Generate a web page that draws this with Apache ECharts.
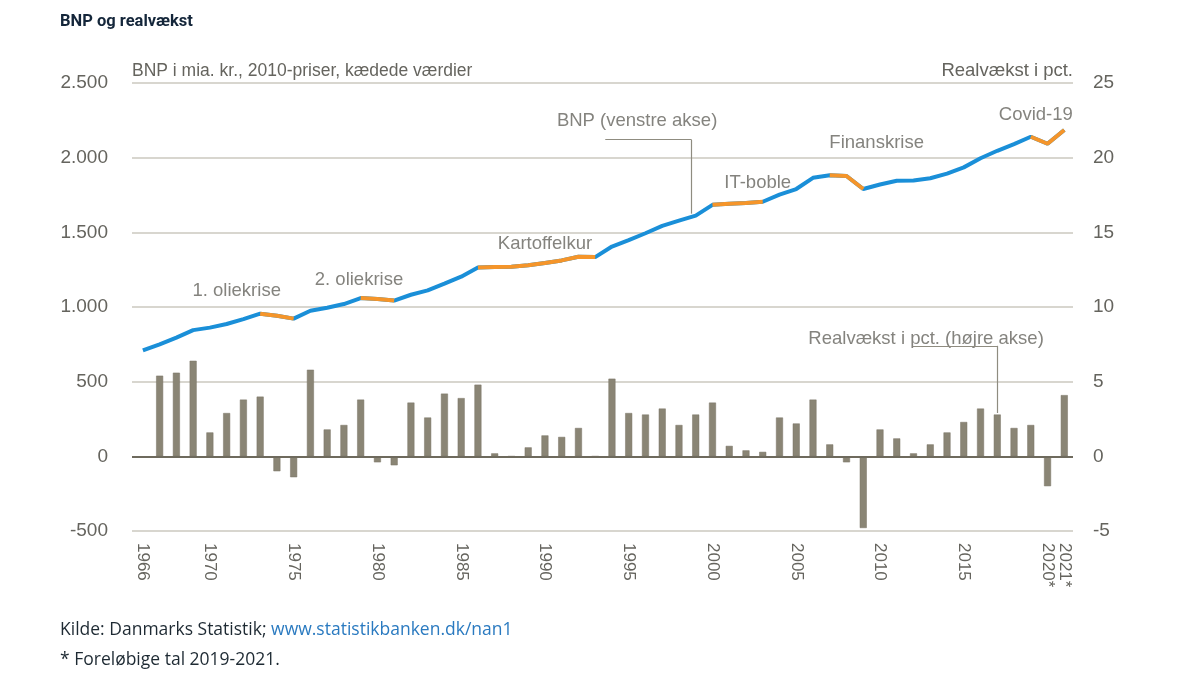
<!DOCTYPE html>
<html>
<head>
<meta charset="utf-8">
<script src="https://cdn.jsdelivr.net/npm/echarts@6.0.0/dist/echarts.min.js"></script>
<style>
  html, body { margin: 0; padding: 0; background: #fff; }
  #chart { width: 1200px; height: 675px; }
</style>
</head>
<body>
<div id="chart"></div>
<script>
// år 1966-2021
var years = [];
for (var y = 1966; y <= 2021; y++) years.push(y);

// BNP i mia. kr., 2010-priser (venstre akse)
var bnp = [709, 750, 795, 845, 862, 886, 919, 955, 942, 922,
           975, 995, 1020, 1060, 1053, 1043, 1082, 1111, 1156, 1203,
           1265, 1268, 1270, 1280, 1295, 1312, 1336, 1334, 1405, 1448,
           1494, 1543, 1578, 1612, 1684, 1692, 1697, 1705, 1752, 1790,
           1865, 1882, 1877, 1790, 1820, 1845, 1847, 1862, 1893, 1935,
           1996, 2046, 2091, 2140, 2093, 2185];

// realvækst i pct. (højre akse), 1966 mangler
var vaekst = [null, 5.4, 5.6, 6.4, 1.6, 2.9, 3.8, 4.0, -1.0, -1.4,
              5.8, 1.8, 2.1, 3.8, -0.4, -0.6, 3.6, 2.6, 4.2, 3.9,
              4.8, 0.2, 0.0, 0.6, 1.4, 1.3, 1.9, 0.0, 5.2, 2.9,
              2.8, 3.2, 2.1, 2.8, 3.6, 0.7, 0.4, 0.3, 2.6, 2.2,
              3.8, 0.8, -0.4, -4.8, 1.8, 1.2, 0.2, 0.8, 1.6, 2.3,
              3.2, 2.8, 1.9, 2.1, -2.0, 4.1];

// kriseperioder (orange)
var kriser = [[1973, 1975], [1979, 1981], [1986, 1993], [2000, 2003], [2007, 2009], [2019, 2021]];

var xLabels = [1966, 1970, 1975, 1980, 1985, 1990, 1995, 2000, 2005, 2010, 2015, 2020];
var xLabelSidst = [2021];
var leftTicks = [-500, 0, 500, 1000, 1500, 2000, 2500];
var rightTicks = [-5, 0, 5, 10, 15, 20, 25];

// tekster i figuren (placering i venstre-akse enheder)
var noter = [
  { tekst: '1. oliekrise', x: 1971.6, y: 1109 },
  { tekst: '2. oliekrise', x: 1978.9, y: 1182 },
  { tekst: 'Kartoffelkur', x: 1990.0, y: 1422 },
  { tekst: 'BNP (venstre akse)', x: 1995.5, y: 2246 },
  { tekst: 'IT-boble', x: 2002.7, y: 1832 },
  { tekst: 'Finanskrise', x: 2009.8, y: 2100 },
  { tekst: 'Covid-19', x: 2019.3, y: 2287 },
  { tekst: 'Realvækst i pct. (højre akse)', x: 2012.75, y: 787 }
];

var font = "'Liberation Sans Narrow', 'Arial Narrow', sans-serif";
var grey = '#65645e';

function iKrise(aar) {
  for (var i = 0; i < kriser.length; i++) {
    if (aar >= kriser[i][0] && aar <= kriser[i][1]) return true;
  }
  return false;
}

var blaa = years.map(function (a, i) { return [a, bnp[i]]; });
var orange = years.map(function (a, i) { return [a, iKrise(a) ? bnp[i] : null]; });
var bars = [];
years.forEach(function (a, i) { if (vaekst[i] !== null) bars.push([a, vaekst[i]]); });

function tusind(v) {
  return String(v).replace(/\B(?=(\d{3})+(?!\d))/g, '.');
}

function xAkse(vaerdier) {
  return {
    type: 'value',
    min: 1965.35,
    max: 2021.52,
    position: 'bottom',
    splitLine: { show: false },
    axisLine: { show: false, onZero: false },
    axisTick: { show: false },
    axisLabel: {
      customValues: vaerdier,
      hideOverlap: false,
      rotate: -90,
      margin: 12,
      fontFamily: font,
      fontSize: 17,
      color: grey,
      formatter: function (v) { return v >= 2020 ? v + '*' : String(v); }
    }
  };
}

var myChart = echarts.init(document.getElementById('chart'));

var option = {
  animation: false,
  title: {
    text: 'BNP og realvækst',
    left: 60,
    top: 13,
    padding: 0,
    textStyle: { fontFamily: 'Roboto', fontSize: 16.5, fontWeight: 'bold', color: '#14263a' }
  },
  graphic: [{
    type: 'text',
    left: 60,
    top: 621,
    style: {
      text: '{a|Kilde: Danmarks Statistik; }{b|www.statistikbanken.dk/nan1}\n{a|* Foreløbige tal 2019-2021.}',
      rich: {
        a: { fontFamily: 'Open Sans', fontSize: 17.5, fill: '#1e2a33', lineHeight: 30 },
        b: { fontFamily: 'Open Sans', fontSize: 17.5, fill: '#2a7ac0', lineHeight: 30 }
      }
    }
  }],
  grid: { left: 132, right: 127, top: 83, bottom: 144 },
  xAxis: [xAkse(xLabels), xAkse(xLabelSidst)],
  yAxis: [{
    type: 'value',
    min: -500,
    max: 2500,
    interval: 500,
    name: 'BNP i mia. kr., 2010-priser, kædede værdier',
    nameLocation: 'end',
    nameGap: 3,
    nameTextStyle: { align: 'left', fontFamily: font, fontSize: 17.5, color: grey },
    axisLine: { show: false },
    axisTick: { show: false },
    splitLine: { lineStyle: { color: '#cbc9bf', width: 1.5 } },
    axisLabel: {
      margin: 24,
      fontFamily: font,
      fontSize: 19,
      color: grey,
      formatter: function (v) { return leftTicks.indexOf(v) >= 0 ? tusind(v) : ''; }
    }
  }, {
    type: 'value',
    min: -5,
    max: 25,
    interval: 5,
    name: 'Realvækst i pct.',
    nameLocation: 'end',
    nameGap: 3,
    nameTextStyle: { align: 'right', fontFamily: font, fontSize: 18.5, color: grey },
    axisLine: { show: false },
    axisTick: { show: false },
    splitLine: { show: false },
    axisLabel: {
      margin: 20,
      fontFamily: font,
      fontSize: 19,
      color: grey,
      formatter: function (v) { return rightTicks.indexOf(v) >= 0 ? String(v) : ''; }
    }
  }],
  series: [{
    name: 'Realvækst',
    type: 'bar',
    yAxisIndex: 1,
    barWidth: 7,
    data: bars,
    itemStyle: { color: '#8a8575', borderColor: '#7a7566', borderWidth: 0.5 },
    markLine: {
      silent: true,
      symbol: ['none', 'none'],
      label: { show: false },
      data: [
        [{ coord: [1965.35, 0], lineStyle: { color: '#6e6a5d', width: 2 } }, { coord: [2021.52, 0] }],
        [{ coord: [2011.97, 7.4] }, { coord: [2017, 7.4] }],
        [{ coord: [2017, 7.4] }, { coord: [2017, 2.9] }]
      ],
      lineStyle: { color: '#8f8c80', width: 1.2, type: 'solid' }
    }
  }, {
    name: 'BNP',
    type: 'line',
    yAxisIndex: 0,
    data: blaa,
    symbol: 'none',
    lineStyle: { color: '#1a8fd8', width: 4 },
    itemStyle: { color: '#1a8fd8' },
    markLine: {
      silent: true,
      symbol: ['none', 'none'],
      label: { show: false },
      lineStyle: { color: '#8f8c80', width: 1.2, type: 'solid' },
      data: [
        [{ coord: [1993.6, 2120] }, { coord: [1998.75, 2120] }],
        [{ coord: [1998.75, 2120] }, { coord: [1998.75, 1625] }]
      ]
    }
  }, {
    name: 'Krise',
    type: 'line',
    yAxisIndex: 0,
    data: orange,
    connectNulls: false,
    symbol: 'none',
    lineStyle: { color: '#f5952a', width: 4 },
    itemStyle: { color: '#f5952a' }
  }, {
    name: 'Noter',
    type: 'scatter',
    yAxisIndex: 0,
    silent: true,
    symbolSize: 1,
    itemStyle: { color: 'rgba(0,0,0,0)' },
    data: noter.map(function (n) { return [n.x, n.y]; }),
    label: {
      show: true,
      position: 'inside',
      fontFamily: font,
      fontSize: 18.5,
      color: grey,
      formatter: function (p) { return noter[p.dataIndex].tekst; }
    }
  }]
};

myChart.setOption(option);
</script>
</body>
</html>
